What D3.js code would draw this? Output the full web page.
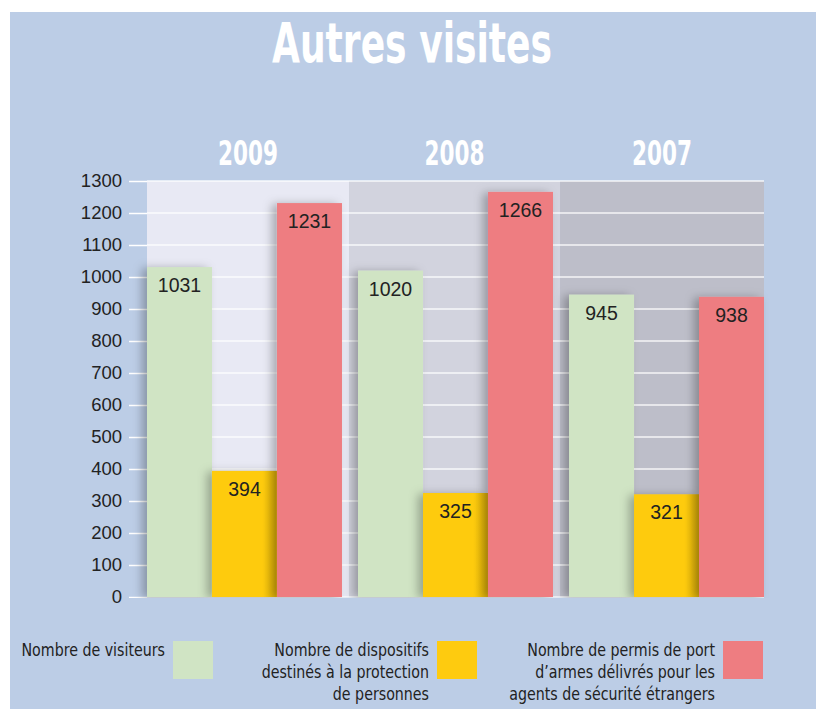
<!DOCTYPE html>
<html>
<head>
<meta charset="utf-8">
<script src="https://cdn.jsdelivr.net/npm/d3@7"></script>
<style>
  body { margin: 0; background: #fff; }
  svg { display: block; }
</style>
</head>
<body>
<svg id="chart" width="816" height="709"></svg>
<script>
// data
const years = ["2009", "2008", "2007"];
const seriesKeys = ["visiteurs", "dispositifs", "permis"];
const visiteurs = [1031, 1020, 945];
const dispositifs = [394, 325, 321];
const permis = [1231, 1266, 938];
const yTicks = d3.range(0, 1301, 100);
const legendLabels = [
  ["Nombre de visiteurs"],
  ["Nombre de dispositifs", "destinés à la protection", "de personnes"],
  ["Nombre de permis de port", "d\u2019armes délivrés pour les", "agents de sécurité étrangers"]
];

const colors = { visiteurs: "#d0e4c4", dispositifs: "#fecb0f", permis: "#ee7d81" };
const panelColors = ["#e8e9f4", "#d2d3de", "#bdbec9"];

const data = years.map((y, i) => ({ year: y, visiteurs: visiteurs[i], dispositifs: dispositifs[i], permis: permis[i] }));

const svg = d3.select("#chart");
const narrow = "'Liberation Sans Narrow', 'DejaVu Sans Condensed', 'Liberation Sans', sans-serif";
const sans = "'Liberation Sans', Arial, sans-serif";

// blue background panel
svg.append("rect").attr("x", 10).attr("y", 12).attr("width", 806).attr("height", 697).attr("fill", "#bccde6");

const defs = svg.append("defs");
const shadow = defs.append("filter").attr("id", "barShadow")
  .attr("x", "-40%").attr("y", "-10%").attr("width", "160%").attr("height", "120%");
shadow.append("feDropShadow")
  .attr("dx", -5).attr("dy", 1).attr("stdDeviation", 5)
  .attr("flood-color", "#000").attr("flood-opacity", 0.28);
const edge = defs.append("linearGradient").attr("id", "edgeR").attr("x1", 0).attr("x2", 1);
edge.append("stop").attr("offset", "0%").attr("stop-color", "#8a6a00").attr("stop-opacity", 0);
edge.append("stop").attr("offset", "100%").attr("stop-color", "#8a6a00").attr("stop-opacity", 0.3);

const plotL = 147, plotR = 764, plotT = 181, plotB = 597;

const x0 = d3.scaleBand().domain(years).range([plotL, plotR]).paddingInner(0.076).paddingOuter(0);
const x1 = d3.scaleBand().domain(seriesKeys).range([0, x0.bandwidth()]);
const y = d3.scaleLinear().domain([0, 1300]).range([plotB, plotT]);

// year panels
const gap = x0.step() - x0.bandwidth();
const panelEdges = years.map((d, i) => i === 0 ? plotL : x0(d) - gap * 0.56).concat([plotR]);
svg.append("g").selectAll("rect")
  .data(years)
  .join("rect")
  .attr("x", (d, i) => panelEdges[i])
  .attr("y", plotT)
  .attr("width", (d, i) => panelEdges[i + 1] - panelEdges[i])
  .attr("height", plotB - plotT)
  .attr("fill", (d, i) => panelColors[i]);

// y axis + gridlines
const yAxis = svg.append("g")
  .attr("transform", "translate(" + plotL + ",0)")
  .call(d3.axisLeft(y).tickValues(yTicks).tickSize(18).tickPadding(7).tickFormat(d3.format("d")));
yAxis.select(".domain").remove();
yAxis.selectAll(".tick line").attr("stroke", "#fff").attr("stroke-width", 1.5);
yAxis.selectAll(".tick text")
  .attr("font-family", sans).attr("font-size", 18.5).attr("fill", "#222");

svg.append("g").selectAll("line")
  .data(yTicks)
  .join("line")
  .attr("x1", plotL).attr("x2", plotR)
  .attr("y1", d => y(d)).attr("y2", d => y(d))
  .attr("stroke", "#fff").attr("stroke-width", 1.5).attr("opacity", 0.85);

// bars
const groups = svg.append("g").selectAll("g")
  .data(data)
  .join("g")
  .attr("transform", d => "translate(" + x0(d.year) + ",0)");

const bars = groups.selectAll("g")
  .data(d => seriesKeys.map(k => ({ key: k, value: d[k] })))
  .join("g");

bars.append("rect")
  .attr("x", d => x1(d.key))
  .attr("y", d => y(d.value))
  .attr("width", x1.bandwidth())
  .attr("height", d => plotB - y(d.value))
  .attr("fill", d => colors[d.key])
  .attr("filter", "url(#barShadow)");

bars.filter(d => d.key === "dispositifs").append("rect")
  .attr("x", d => x1(d.key) + x1.bandwidth() - 14)
  .attr("y", d => y(d.value))
  .attr("width", 14)
  .attr("height", d => plotB - y(d.value))
  .attr("fill", "url(#edgeR)");

bars.append("text")
  .attr("x", d => x1(d.key) + x1.bandwidth() / 2)
  .attr("y", d => y(d.value) + 25)
  .attr("text-anchor", "middle")
  .attr("font-family", sans)
  .attr("font-size", 19.5)
  .attr("fill", "#222")
  .text(d => d.value);

// cover the shadow spill below the baseline
svg.append("rect")
  .attr("x", plotL - 20).attr("y", plotB + 1)
  .attr("width", plotR - plotL + 40).attr("height", 12)
  .attr("fill", "#bccde6");

// year headers
svg.append("g").selectAll("text")
  .data(years)
  .join("text")
  .attr("x", (d, i) => (panelEdges[i] + panelEdges[i + 1]) / 2)
  .attr("y", 165)
  .attr("text-anchor", "middle")
  .attr("font-family", narrow)
  .attr("font-weight", "bold")
  .attr("font-size", 33)
  .attr("fill", "#fff")
  .attr("textLength", 60)
  .attr("lengthAdjust", "spacingAndGlyphs")
  .text(d => d);

// title
svg.append("text")
  .attr("x", 412).attr("y", 62)
  .attr("text-anchor", "middle")
  .attr("font-family", narrow)
  .attr("font-weight", "bold")
  .attr("font-size", 56)
  .attr("fill", "#fff")
  .attr("textLength", 280)
  .attr("lengthAdjust", "spacingAndGlyphs")
  .text("Autres visites");

// legend
const legendX = [213, 477, 763];
const squeeze = 0.93;
const legend = svg.append("g").selectAll("g")
  .data(seriesKeys)
  .join("g")
  .attr("transform", (d, i) => "translate(" + legendX[i] + ",641)");

legend.append("rect")
  .attr("x", -40).attr("y", 0)
  .attr("width", 40).attr("height", 38)
  .attr("fill", d => colors[d]);

legend.append("text")
  .attr("transform", "scale(" + squeeze + ",1)")
  .attr("text-anchor", "end")
  .attr("font-family", narrow)
  .attr("font-size", 17)
  .attr("fill", "#222")
  .selectAll("tspan")
  .data((d, i) => legendLabels[i])
  .join("tspan")
  .attr("x", -48 / squeeze)
  .attr("y", (d, i) => 15 + i * 22)
  .text(d => d);
</script>
</body>
</html>
